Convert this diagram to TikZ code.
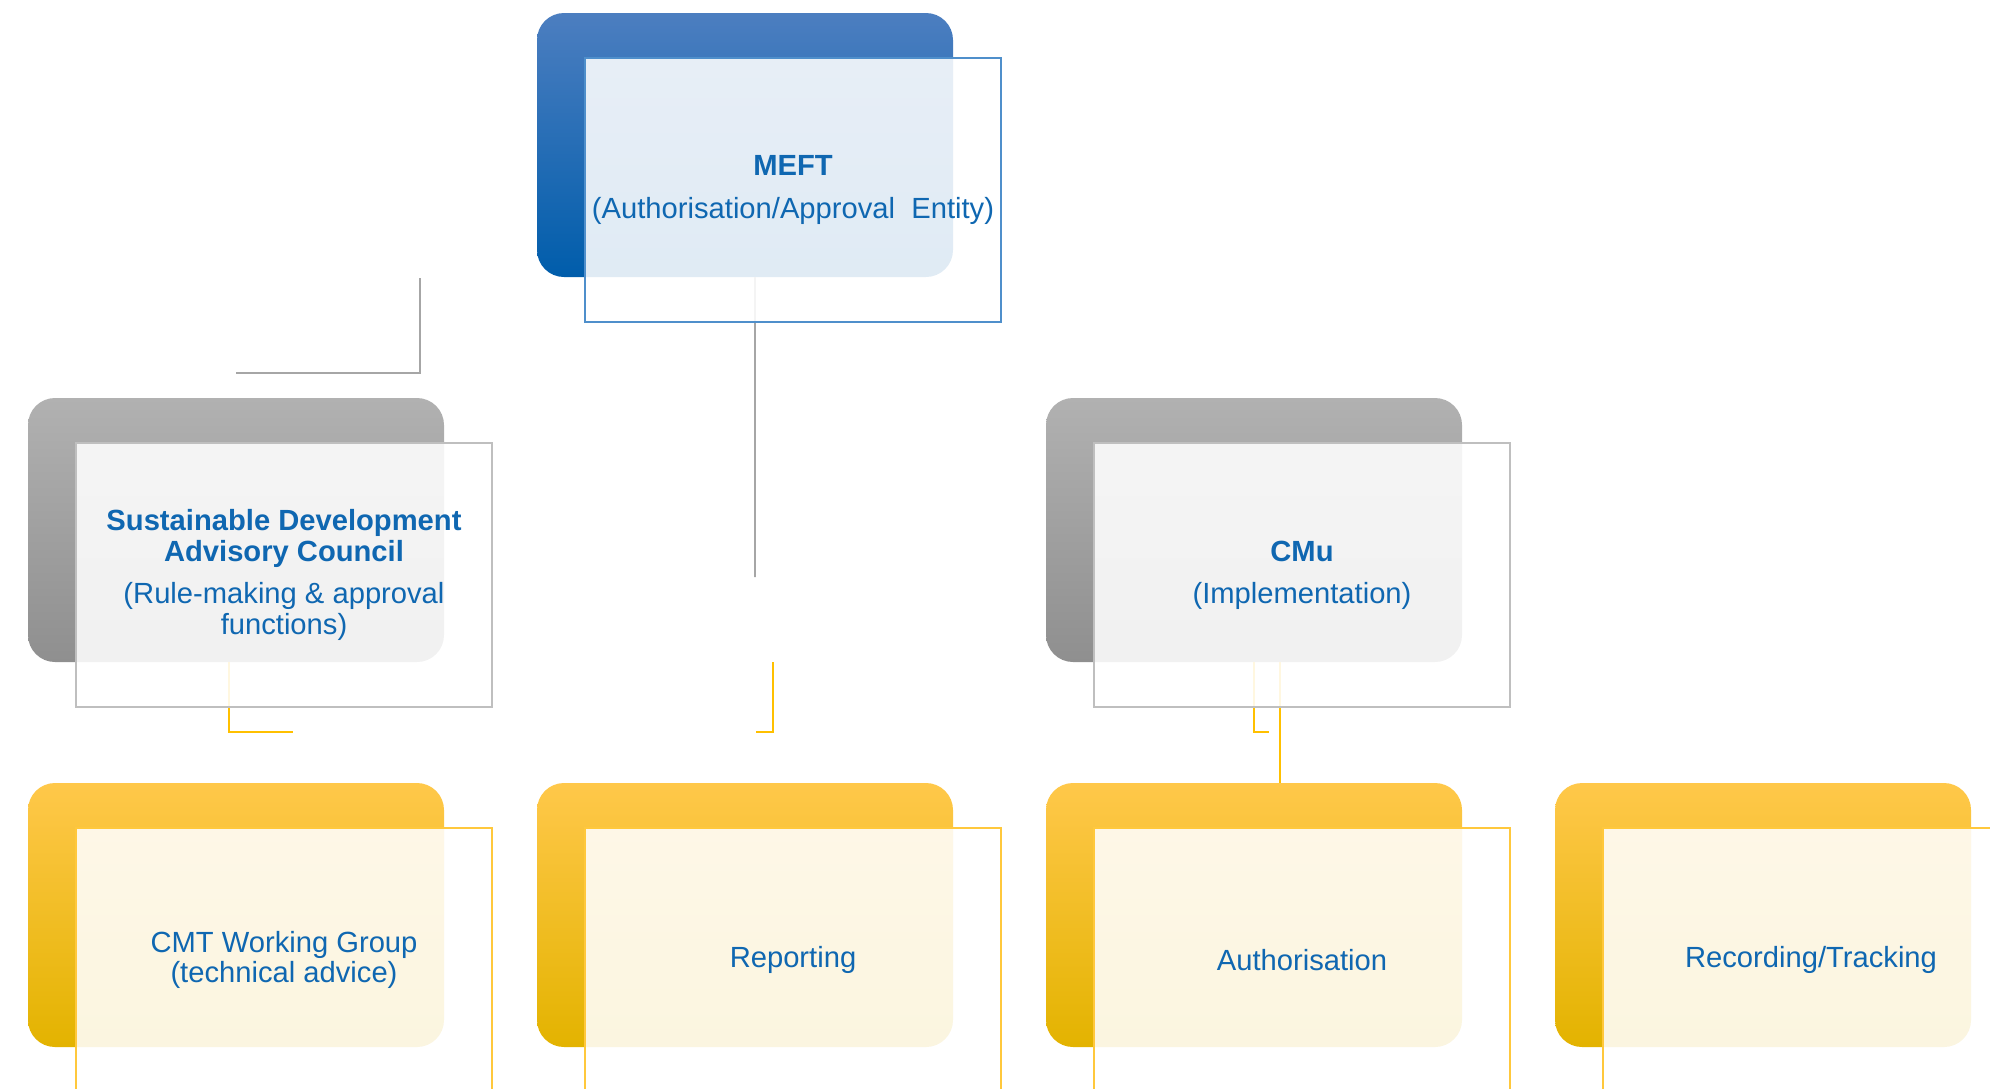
\documentclass[tikz,border=0pt]{standalone}
\usepackage{fontspec}
\setmainfont{Liberation Sans}
\usepackage{tikz}
\usetikzlibrary{positioning,calc}
\definecolor{txtblue}{HTML}{0F67B1}
\definecolor{bluetop}{HTML}{4C7EC0}
\definecolor{bluemid}{HTML}{0066B3}
\definecolor{bluebot}{HTML}{005DAB}
\definecolor{bluerim}{HTML}{4F8FCB}
\definecolor{greytop}{HTML}{B1B1B1}
\definecolor{greymid}{HTML}{A6A6A6}
\definecolor{greybot}{HTML}{8F8F8F}
\definecolor{greyrim}{HTML}{BFBFBF}
\definecolor{goldtop}{HTML}{FFC84A}
\definecolor{goldmid}{HTML}{FFC600}
\definecolor{goldbot}{HTML}{E3B300}
\definecolor{goldrim}{HTML}{FFC83C}
\definecolor{linegrey}{HTML}{A6A6A6}
\definecolor{linegold}{HTML}{FFC000}

\begin{document}
\begin{tikzpicture}[
  node distance=1.21cm and 0.93cm,
  BX/.style={rectangle, rounded corners=2.7mm, minimum width=4.16cm,
             minimum height=2.64cm, inner sep=0pt, outer sep=0pt},
  BB/.style={BX, top color=bluetop, middle color=bluemid, bottom color=bluebot},
  BG/.style={BX, top color=greytop, middle color=greymid, bottom color=greybot},
  BY/.style={BX, top color=goldtop, middle color=goldmid, bottom color=goldbot},
  FR/.style={rectangle, draw, line width=0.5pt, fill=white, fill opacity=0.88,
             text opacity=1, minimum width=4.16cm, minimum height=2.64cm,
             inner sep=0pt, outer sep=0pt, align=center, text=txtblue,
             font=\fontsize{8.3}{8.7}\selectfont},
  FB/.style={FR, draw=bluerim},
  FG/.style={FR, draw=greyrim},
  FY/.style={FR, draw=goldrim},
  LG/.style={draw=linegrey, line width=0.5pt},
  LY/.style={draw=linegold, line width=0.6pt}
]
\useasboundingbox (0,0) rectangle (19.90,-10.88);

% back boxes
\node[BB] (meft) at (7.45,-1.45) {};
\node[BG, below left=of meft] (sdac) {};
\node[BG, below right=of meft] (cmu) {};
\node[BY, below=of sdac] (cmt) {};
\node[BY, right=of cmt] (rep) {};
\node[BY, right=of rep] (auth) {};
\node[BY, right=of auth] (rec) {};

% connectors
\coordinate (k1) at (4.20,-2.78);
\coordinate (k2) at (2.36,-3.73);
\draw[LG] (k1) |- (k2);
\coordinate (k3) at (7.55,-5.77);
\draw[LG] ([xshift=1mm]meft.south) -- (k3);
\coordinate (k4) at (7.73,-6.62);
\coordinate (k5) at (7.56,-7.32);
\draw[LY] (k4) |- (k5);
\coordinate (k6) at (2.93,-7.32);
\draw[LY] ([xshift=-0.7mm]sdac.south) |- (k6);
\coordinate (k7) at (12.69,-7.32);
\draw[LY] (cmu.south) |- (k7);
\draw[LY] ([xshift=2.6mm]cmu.south) -- ([xshift=2.6mm]auth.north);

% front boxes
\node[FB] (meft2) at ([shift={(.48,-.45)}]meft.center)
  {\textbf{MEFT}\\[3.3pt](Authorisation/Approval\ \ Entity)};
\node[FG] (sdac2) at ([shift={(.48,-.45)}]sdac.center)
  {\textbf{Sustainable Development}\\\textbf{Advisory Council}\\[3.3pt](Rule-making \& approval\\functions)};
\node[FG] (cmu2) at ([shift={(.48,-.45)}]cmu.center)
  {\textbf{CMu}\\[3.3pt](Implementation)};
\node[FY] (cmt2) at ([shift={(.48,-.45)}]cmt.center)
  {CMT Working Group\\(technical advice)};
\node[FY] (rep2) at ([shift={(.48,-.45)}]rep.center) {Reporting};
\node[FY] (auth2) at ([shift={(.48,-.45)}]auth.center) {Authorisation};
\node[FY] (rec2) at ([shift={(.48,-.45)}]rec.center) {Recording/Tracking};
\end{tikzpicture}
\end{document}
